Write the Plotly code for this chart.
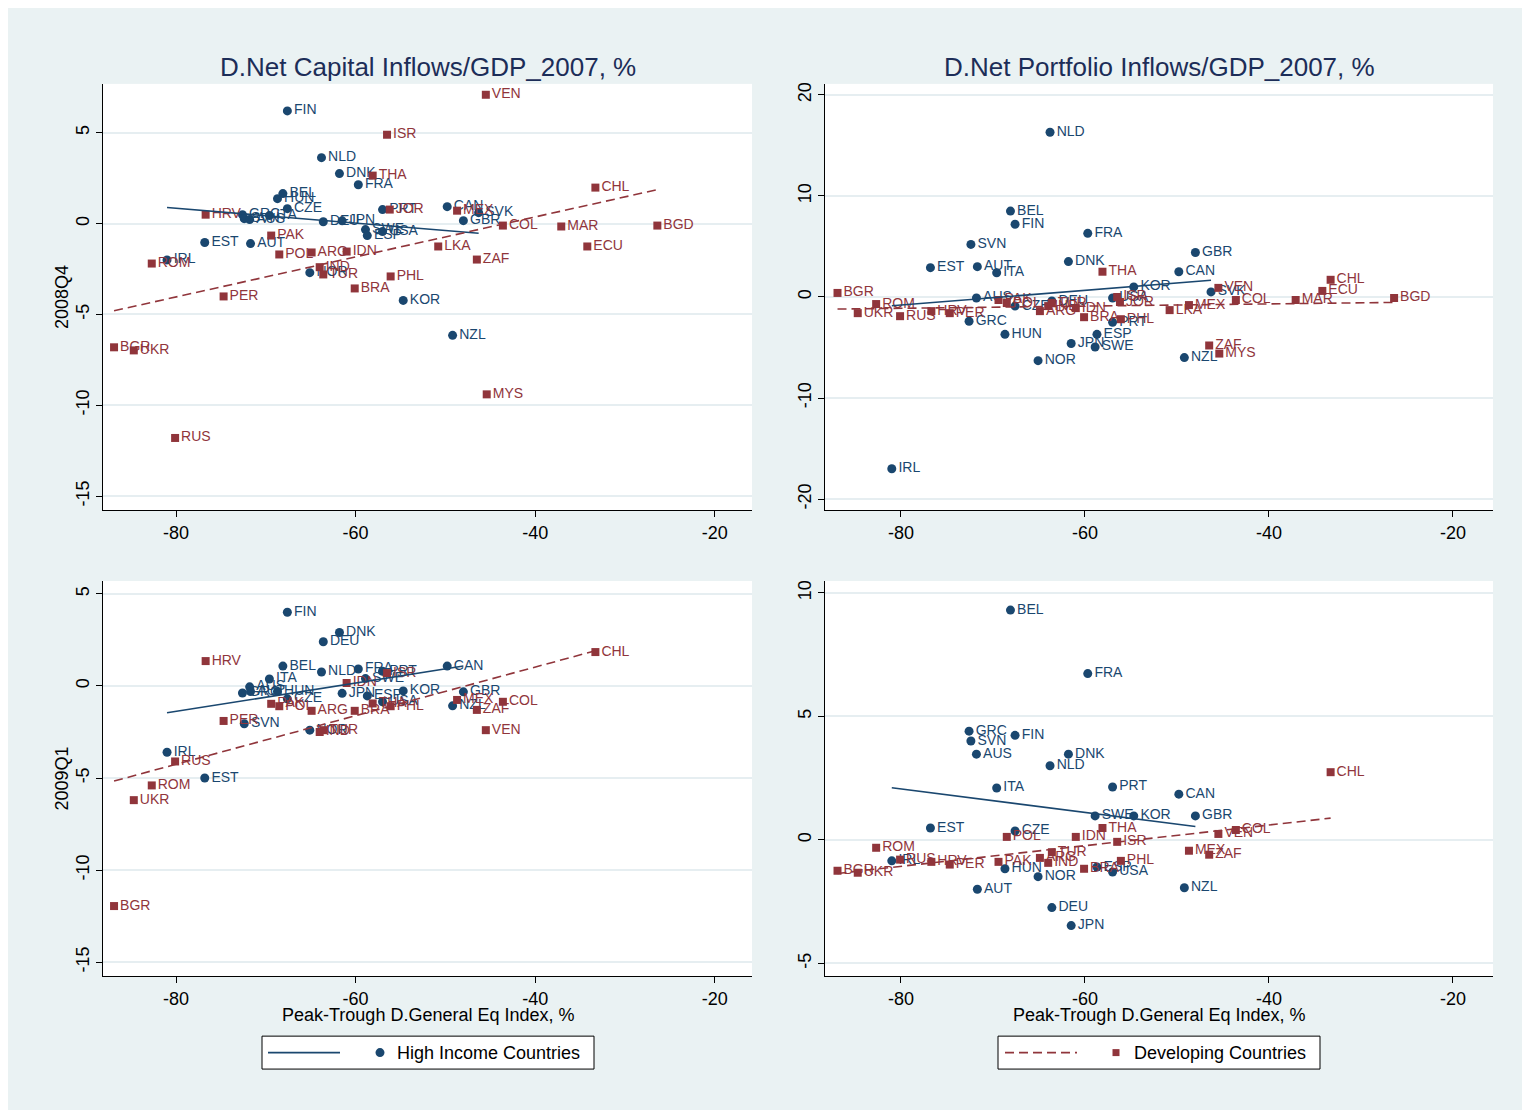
import numpy as np
import plotly.graph_objects as go

# page body has an 8px margin; the figure is sized so that its
# light background spans the same pixels as the reference
OFF = 8
W, H = 1519, 1102

# ---------------- data ----------------
hi_names = ["FIN", "NLD", "DNK", "FRA", "BEL", "HUN", "CZE", "GRC", "SVN", "AUS", "ITA",
            "DEU", "JPN", "PRT", "CAN", "SVK", "GBR", "SWE", "ESP", "USA", "EST", "AUT",
            "IRL", "NOR", "KOR", "NZL"]
hi_x = [-67.6, -63.8, -61.8, -59.7, -68.1, -68.7, -67.6, -72.6, -72.4, -71.8, -69.6,
        -63.6, -61.5, -57.0, -49.8, -46.3, -48.0, -58.9, -58.7, -57.0, -76.8, -71.7,
        -81.0, -65.1, -54.7, -49.2]
hi_cap_08q4 = [6.2, 3.63, 2.75, 2.14, 1.65, 1.37, 0.82, 0.49, 0.27, 0.22, 0.44,
               0.10, 0.15, 0.77, 0.93, 0.60, 0.16, -0.33, -0.66, -0.44, -1.04, -1.10,
               -2.0, -2.7, -4.23, -6.15]
hi_port_08q4 = [7.2, 16.3, 3.5, 6.3, 8.5, -3.7, -0.9, -2.4, 5.2, -0.1, 2.4,
                -0.4, -4.6, -2.5, 2.5, 0.5, 4.4, -4.95, -3.7, -0.1, 2.9, 3.0,
                -17.0, -6.3, 1.0, -6.0]
hi_cap_09q1 = [4.0, 0.76, 2.9, 0.92, 1.08, -0.3, -0.7, -0.38, -2.05, -0.05, 0.38,
               2.4, -0.4, 0.8, 1.08, None, -0.32, 0.4, -0.54, -0.86, -5.0, -0.3,
               -3.6, -2.4, -0.27, -1.08]
hi_port_09q1 = [4.23, 3.0, 3.47, 6.73, 9.3, -1.17, 0.36, 4.4, 4.0, 3.47, 2.1,
                -2.74, -3.47, 2.14, 1.85, None, 0.97, 0.97, -1.1, -1.3, 0.48, -2.0,
                -0.85, -1.49, 0.97, -1.94]

dev_names = ["VEN", "ISR", "THA", "CHL", "HRV", "JOR", "MEX", "COL", "MAR", "BGD", "PAK",
             "ECU", "LKA", "POL", "ARG", "IDN", "ROM", "ZAF", "IND", "TUR", "PHL", "BRA",
             "PER", "BGR", "UKR", "MYS", "RUS"]
dev_x = [-45.5, -56.5, -58.1, -33.3, -76.7, -56.2, -48.7, -43.6, -37.1, -26.4, -69.4,
         -34.2, -50.8, -68.5, -64.9, -61.0, -82.7, -46.5, -64.0, -63.6, -56.1, -60.1,
         -74.7, -86.9, -84.7, -45.4, -80.1]
dev_cap_08q4 = [7.09, 4.89, 2.64, 1.98, 0.49, 0.77, 0.71, -0.11, -0.16, -0.11, -0.66,
                -1.26, -1.26, -1.70, -1.59, -1.54, -2.2, -1.98, -2.4, -2.8, -2.91, -3.57,
                -4.01, -6.81, -6.98, -9.4, -11.8]
dev_port_08q4 = [0.9, 0.0, 2.5, 1.7, -1.4, -0.5, -0.8, -0.3, -0.3, -0.1, -0.3,
                 0.6, -1.3, -0.6, -1.4, -1.1, -0.7, -4.8, -0.9, -0.6, -2.2, -2.0,
                 -1.6, 0.4, -1.6, -5.6, -1.9]
dev_cap_09q1 = [-2.4, 0.7, -0.95, 1.84, 1.35, None, -0.76, -0.86, None, None, -0.97,
                None, None, -1.1, -1.35, 0.16, -5.4, -1.3, -2.5, -2.4, -1.1, -1.35,
                -1.9, -11.95, -6.2, None, -4.1]
dev_port_09q1 = [0.24, -0.08, 0.48, 2.74, -0.89, None, -0.44, 0.4, None, None, -0.89,
                 None, None, 0.12, -0.73, 0.12, -0.32, -0.6, -0.93, -0.5, -0.85, -1.17,
                 -1.0, -1.25, -1.33, None, -0.8]

col_titles = ["D.Net Capital Inflows/GDP_2007, %", "D.Net Portfolio Inflows/GDP_2007, %"]
row_titles = ["2008Q4", "2009Q1"]
x_title = "Peak-Trough D.General Eq Index, %"
group_names = ["High Income Countries", "Developing Countries"]
x_ticks = [-80, -60, -40, -20]
y_ticks = {
    1: [5, 0, -5, -10, -15],
    2: [20, 10, 0, -10, -20],
    3: [5, 0, -5, -10, -15],
    4: [10, 5, 0, -5],
}

# ---------------- styles ----------------
BLUE = "#1A476F"
RED = "#90353B"
BG = "#EAF2F3"
FONT = "Liberation Sans, Arial, sans-serif"
TITLE_COLOR = "#1C2D58"
DASH = "9px,5px"


def px_x(p):
    return (p - OFF) / W


def px_y(p):
    return 1 - (p - OFF) / H


# panel geometry (reference pixels)
col_px = [(103, 752), (825, 1493)]
row_px = [(82, 509), (580, 976)]
x_ranges = [[-88.13, -15.86], [-88.26, -15.65]]
y_ranges = {1: [-15.77, 7.69], 2: [-21.09, 21.09], 3: [-15.76, 5.70], 4: [-5.52, 10.48]}

panels = {
    1: (hi_cap_08q4, dev_cap_08q4),
    2: (hi_port_08q4, dev_port_08q4),
    3: (hi_cap_09q1, dev_cap_09q1),
    4: (hi_port_09q1, dev_port_09q1),
}

fig = go.Figure()


def clean(xs, ys, names):
    out = [(x, y, n) for x, y, n in zip(xs, ys, names) if y is not None]
    return [o[0] for o in out], [o[1] for o in out], [o[2] for o in out]


for k in range(1, 5):
    xa = "x" if k == 1 else f"x{k}"
    ya = "y" if k == 1 else f"y{k}"
    hy, dy = panels[k]
    hx_c, hy_c, hn_c = clean(hi_x, hy, hi_names)
    dx_c, dy_c, dn_c = clean(dev_x, dy, dev_names)

    fig.add_trace(go.Scatter(
        x=hx_c, y=hy_c, text=hn_c, mode="markers+text", textposition="middle right",
        marker=dict(symbol="circle", size=9, color=BLUE),
        textfont=dict(family=FONT, size=14, color=BLUE),
        xaxis=xa, yaxis=ya, showlegend=False, cliponaxis=False))
    fig.add_trace(go.Scatter(
        x=dx_c, y=dy_c, text=dn_c, mode="markers+text", textposition="middle right",
        marker=dict(symbol="square", size=8, color=RED),
        textfont=dict(family=FONT, size=14, color=RED),
        xaxis=xa, yaxis=ya, showlegend=False, cliponaxis=False))

    # linear fits
    for xs, ys, color, dash in [(hx_c, hy_c, BLUE, "solid"), (dx_c, dy_c, RED, DASH)]:
        b, a = np.polyfit(np.array(xs), np.array(ys), 1)
        xl = np.array([min(xs), max(xs)])
        fig.add_trace(go.Scatter(
            x=xl, y=a + b * xl, mode="lines",
            line=dict(color=color, width=1.6, dash=dash),
            xaxis=xa, yaxis=ya, showlegend=False))

layout = dict(
    width=W, height=H,
    margin=dict(l=0, r=0, t=0, b=0),
    paper_bgcolor=BG, plot_bgcolor="white",
    font=dict(family=FONT, color="black"),
    showlegend=False,
)

for k in range(1, 5):
    r = (k - 1) // 2
    c = (k - 1) % 2
    xn = "xaxis" if k == 1 else f"xaxis{k}"
    yn = "yaxis" if k == 1 else f"yaxis{k}"
    ya = "y" if k == 1 else f"y{k}"
    xa = "x" if k == 1 else f"x{k}"
    layout[xn] = dict(
        domain=[px_x(col_px[c][0]), px_x(col_px[c][1])], anchor=ya,
        range=x_ranges[c], tickvals=x_ticks, ticktext=[str(v) for v in x_ticks],
        ticks="outside", ticklen=6,
        tickcolor="black", showline=True, linecolor="black", linewidth=1,
        showgrid=False, zeroline=False, tickfont=dict(size=18, color="black"))
    layout[yn] = dict(
        domain=[px_y(row_px[r][1]), px_y(row_px[r][0])], anchor=xa,
        range=y_ranges[k], tickvals=y_ticks[k], ticktext=[str(v) for v in y_ticks[k]],
        ticks="outside", ticklen=6,
        tickcolor="black", showline=True, linecolor="black", linewidth=1,
        showgrid=True, gridcolor="#E6EEF1", gridwidth=1.5, zeroline=False,
        tickangle=-90, tickfont=dict(size=18, color="black"))

anns = []
shapes = []
for c in range(2):
    cx = (col_px[c][0] + col_px[c][1]) / 2
    anns.append(dict(text=col_titles[c], x=px_x(cx), y=px_y(65), xref="paper", yref="paper",
                     showarrow=False, xanchor="center", yanchor="middle",
                     font=dict(size=26, color=TITLE_COLOR)))
    anns.append(dict(text=x_title, x=px_x(cx), y=px_y(1015), xref="paper", yref="paper",
                     showarrow=False, xanchor="center", yanchor="middle",
                     font=dict(size=18, color="black")))
for r in range(2):
    cy = (row_px[r][0] + row_px[r][1]) / 2
    anns.append(dict(text=row_titles[r], x=px_x(62), y=px_y(cy), xref="paper", yref="paper",
                     showarrow=False, xanchor="center", yanchor="middle", textangle=-90,
                     font=dict(size=18, color="black")))

# legend boxes (one under each column), keys drawn as in the reference
legends = [
    dict(box=(262, 594), line=(268, 340), mark=380, text=395, color=BLUE, dash="solid",
         symbol="circle", r=4.5, label=group_names[0]),
    dict(box=(998, 1320), line=(1005, 1077), mark=1116, text=1132, color=RED, dash=DASH,
         symbol="square", r=3.5, label=group_names[1]),
]
ly0, ly1, lyc = 1036, 1069, 1052.5
for lg in legends:
    shapes.append(dict(type="rect", xref="paper", yref="paper",
                       x0=px_x(lg["box"][0]), x1=px_x(lg["box"][1]),
                       y0=px_y(ly1), y1=px_y(ly0), fillcolor="white",
                       line=dict(color="black", width=1)))
    shapes.append(dict(type="line", xref="paper", yref="paper",
                       x0=px_x(lg["line"][0]), x1=px_x(lg["line"][1]),
                       y0=px_y(lyc), y1=px_y(lyc),
                       line=dict(color=lg["color"], width=1.6, dash=lg["dash"])))
    shapes.append(dict(type="circle" if lg["symbol"] == "circle" else "rect",
                       xref="paper", yref="paper",
                       x0=px_x(lg["mark"] - lg["r"]), x1=px_x(lg["mark"] + lg["r"]),
                       y0=px_y(lyc + lg["r"]), y1=px_y(lyc - lg["r"]),
                       fillcolor=lg["color"], line=dict(width=0)))
    anns.append(dict(text=lg["label"], x=px_x(lg["text"]), y=px_y(lyc), xref="paper",
                     yref="paper", showarrow=False, xanchor="left", yanchor="middle",
                     font=dict(size=18, color="black")))

layout["annotations"] = anns
layout["shapes"] = shapes

fig.update_layout(**layout)
fig.write_html("out.html")
